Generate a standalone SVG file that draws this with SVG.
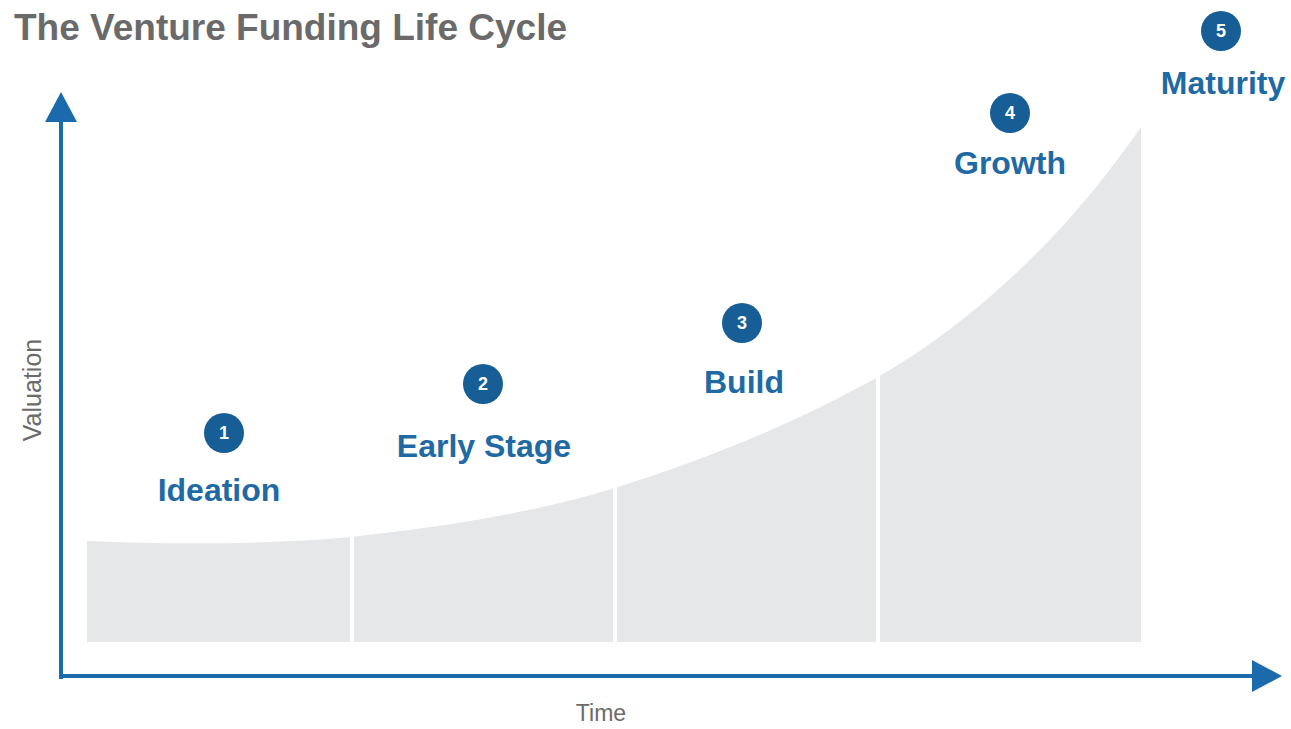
<svg xmlns="http://www.w3.org/2000/svg" width="1291" height="729" viewBox="0 0 1291 729">
  <style>
    .title { font-family: "Liberation Sans", Arial, sans-serif; font-weight: bold; font-size: 37px; fill: #6a6a6a; }
    .axislabel { font-family: "Liberation Sans", Arial, sans-serif; font-size: 23px; fill: #6a6a6a; }
    .stage { font-family: "Liberation Sans", Arial, sans-serif; font-weight: bold; font-size: 32px; fill: #1f6aa5; text-anchor: middle; }
    .badge { fill: #175e97; }
    .num { font-family: "Liberation Sans", Arial, sans-serif; font-weight: bold; font-size: 18px; fill: #ffffff; text-anchor: middle; }
    .axis { stroke: #1b6aab; stroke-width: 4; fill: none; }
    .divider { stroke: #ffffff; stroke-width: 4; }
  </style>
  <defs>
    <marker id="arrow" viewBox="0 0 30 32" refX="4" refY="16" markerWidth="30" markerHeight="32" markerUnits="userSpaceOnUse" orient="auto">
      <path d="M0,0 L30,16 L0,32 z" fill="#1b6aab"/>
    </marker>
  </defs>
  <rect width="1291" height="729" fill="#ffffff"/>
  <text class="title" x="14" y="40">The Venture Funding Life Cycle</text>

  <g id="area">
    <path d="M87,541 C200,546 300,542 350,537 C480,523 560,505 615,488 C720,455 800,420 878,377 C980,318 1070,230 1141,127 L1141,642 L87,642 Z" fill="#e6e7e9"/>
    <line class="divider" x1="352" y1="520" x2="352" y2="645"/>
    <line class="divider" x1="615" y1="470" x2="615" y2="645"/>
    <line class="divider" x1="878" y1="360" x2="878" y2="645"/>
  </g>

  <g id="connectors">
    <path class="axis" d="M61,679 L61,118" marker-end="url(#arrow)"/>
    <path class="axis" d="M59,676 L1256,676" marker-end="url(#arrow)"/>
  </g>

  <text class="axislabel" transform="translate(41,390) rotate(-90)" text-anchor="middle" style="font-size:25px">Valuation</text>
  <text class="axislabel" x="601" y="721" text-anchor="middle">Time</text>

  <g id="stage1">
    <circle class="badge" cx="224" cy="433" r="20"/>
    <text class="num" x="224" y="439">1</text>
    <text class="stage" x="219" y="501">Ideation</text>
  </g>
  <g id="stage2">
    <circle class="badge" cx="483" cy="384" r="20"/>
    <text class="num" x="483" y="390">2</text>
    <text class="stage" x="484" y="457">Early Stage</text>
  </g>
  <g id="stage3">
    <circle class="badge" cx="742" cy="323" r="20"/>
    <text class="num" x="742" y="329">3</text>
    <text class="stage" x="744" y="393">Build</text>
  </g>
  <g id="stage4">
    <circle class="badge" cx="1010" cy="113" r="20"/>
    <text class="num" x="1010" y="119">4</text>
    <text class="stage" x="1010" y="174">Growth</text>
  </g>
  <g id="stage5">
    <circle class="badge" cx="1221" cy="31" r="20"/>
    <text class="num" x="1221" y="37">5</text>
    <text class="stage" x="1223" y="94">Maturity</text>
  </g>
</svg>
